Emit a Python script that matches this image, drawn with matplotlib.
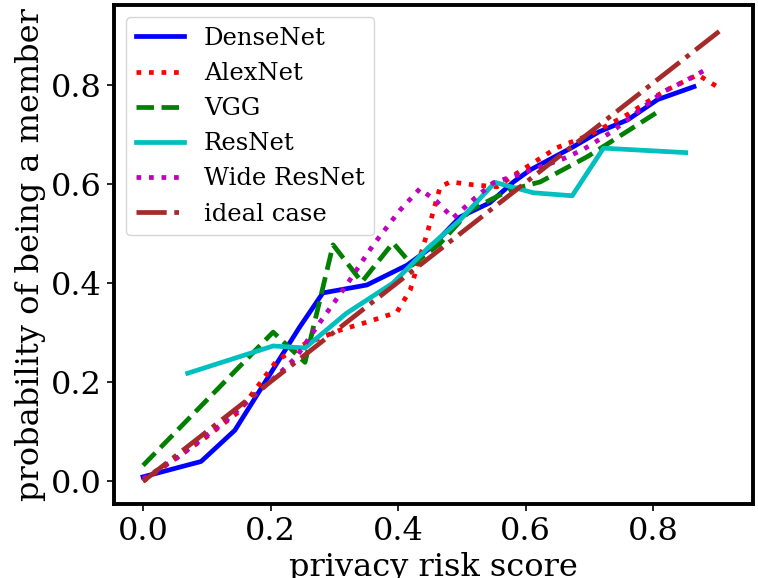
import matplotlib
matplotlib.use("Agg")
import matplotlib.pyplot as plt

plt.rcParams['font.family'] = ['DejaVu Serif']

# Calibration curves: privacy risk score vs empirical membership probability
densenet_x = [0.0, 0.091, 0.144, 0.245, 0.282, 0.351, 0.414, 0.450, 0.497, 0.544,
              0.581, 0.607, 0.675, 0.715, 0.760, 0.807, 0.864]
densenet_y = [0.009, 0.040, 0.103, 0.310, 0.380, 0.396, 0.436, 0.470, 0.533, 0.562,
              0.604, 0.628, 0.675, 0.705, 0.729, 0.770, 0.796]

alexnet_x = [0.0, 0.10, 0.15, 0.21, 0.25, 0.309, 0.351, 0.398, 0.419, 0.447, 0.466,
             0.482, 0.518, 0.555, 0.587, 0.649, 0.701, 0.76, 0.816, 0.87, 0.903]
alexnet_y = [0.0, 0.09, 0.14, 0.244, 0.275, 0.305, 0.321, 0.341, 0.386, 0.507, 0.594,
             0.604, 0.598, 0.594, 0.622, 0.673, 0.699, 0.74, 0.786, 0.82, 0.794]

vgg_x = [0.0, 0.204, 0.254, 0.298, 0.343, 0.392, 0.422, 0.466, 0.513, 0.576,
         0.623, 0.697, 0.807]
vgg_y = [0.032, 0.301, 0.240, 0.477, 0.402, 0.481, 0.436, 0.480, 0.547, 0.588,
         0.604, 0.655, 0.745]

resnet_x = [0.07, 0.204, 0.254, 0.319, 0.392, 0.447, 0.497, 0.552, 0.612, 0.673,
            0.722, 0.851]
resnet_y = [0.218, 0.273, 0.269, 0.339, 0.400, 0.471, 0.527, 0.603, 0.582, 0.576,
            0.672, 0.663]

wide_x = [0.0, 0.052, 0.128, 0.214, 0.240, 0.272, 0.317, 0.361, 0.403, 0.434, 0.461,
          0.486, 0.521, 0.549, 0.587, 0.658, 0.690, 0.735, 0.816, 0.848, 0.882]
wide_y = [0.005, 0.046, 0.120, 0.218, 0.250, 0.311, 0.392, 0.477, 0.547, 0.590, 0.564,
          0.531, 0.572, 0.602, 0.618, 0.650, 0.669, 0.705, 0.786, 0.806, 0.830]

ideal_x = [0.0, 0.911]
ideal_y = [0.0, 0.915]

fig = plt.figure(figsize=(7.58, 5.78), dpi=100)
ax = fig.add_axes([114 / 758, 74 / 578, 639 / 758, 499 / 578])

lw = 3.4
ax.plot(densenet_x, densenet_y, color='b', linestyle='-', linewidth=lw, label='DenseNet')
ax.plot(alexnet_x, alexnet_y, color='r', linestyle=':', linewidth=lw, label='AlexNet')
ax.plot(vgg_x, vgg_y, color='g', linestyle='--', linewidth=lw, label='VGG')
ax.plot(resnet_x, resnet_y, color='c', linestyle='-', linewidth=lw, label='ResNet')
ax.plot(wide_x, wide_y, color='m', linestyle=':', linewidth=lw, label='Wide ResNet')
ax.plot(ideal_x, ideal_y, color='brown', linestyle='-.', linewidth=lw, label='ideal case')

ax.set_xticks([0.0, 0.2, 0.4, 0.6, 0.8])
ax.set_yticks([0.0, 0.2, 0.4, 0.6, 0.8])
ax.tick_params(labelsize=23, width=1.2, length=5)
ax.set_xlabel('privacy risk score', fontsize=23)
ax.set_ylabel('probability of being a member', fontsize=23)
for s in ax.spines.values():
    s.set_linewidth(2.8)

ax.legend(loc='upper left', fontsize=17.5)

fig.savefig('out.png', dpi=100)
